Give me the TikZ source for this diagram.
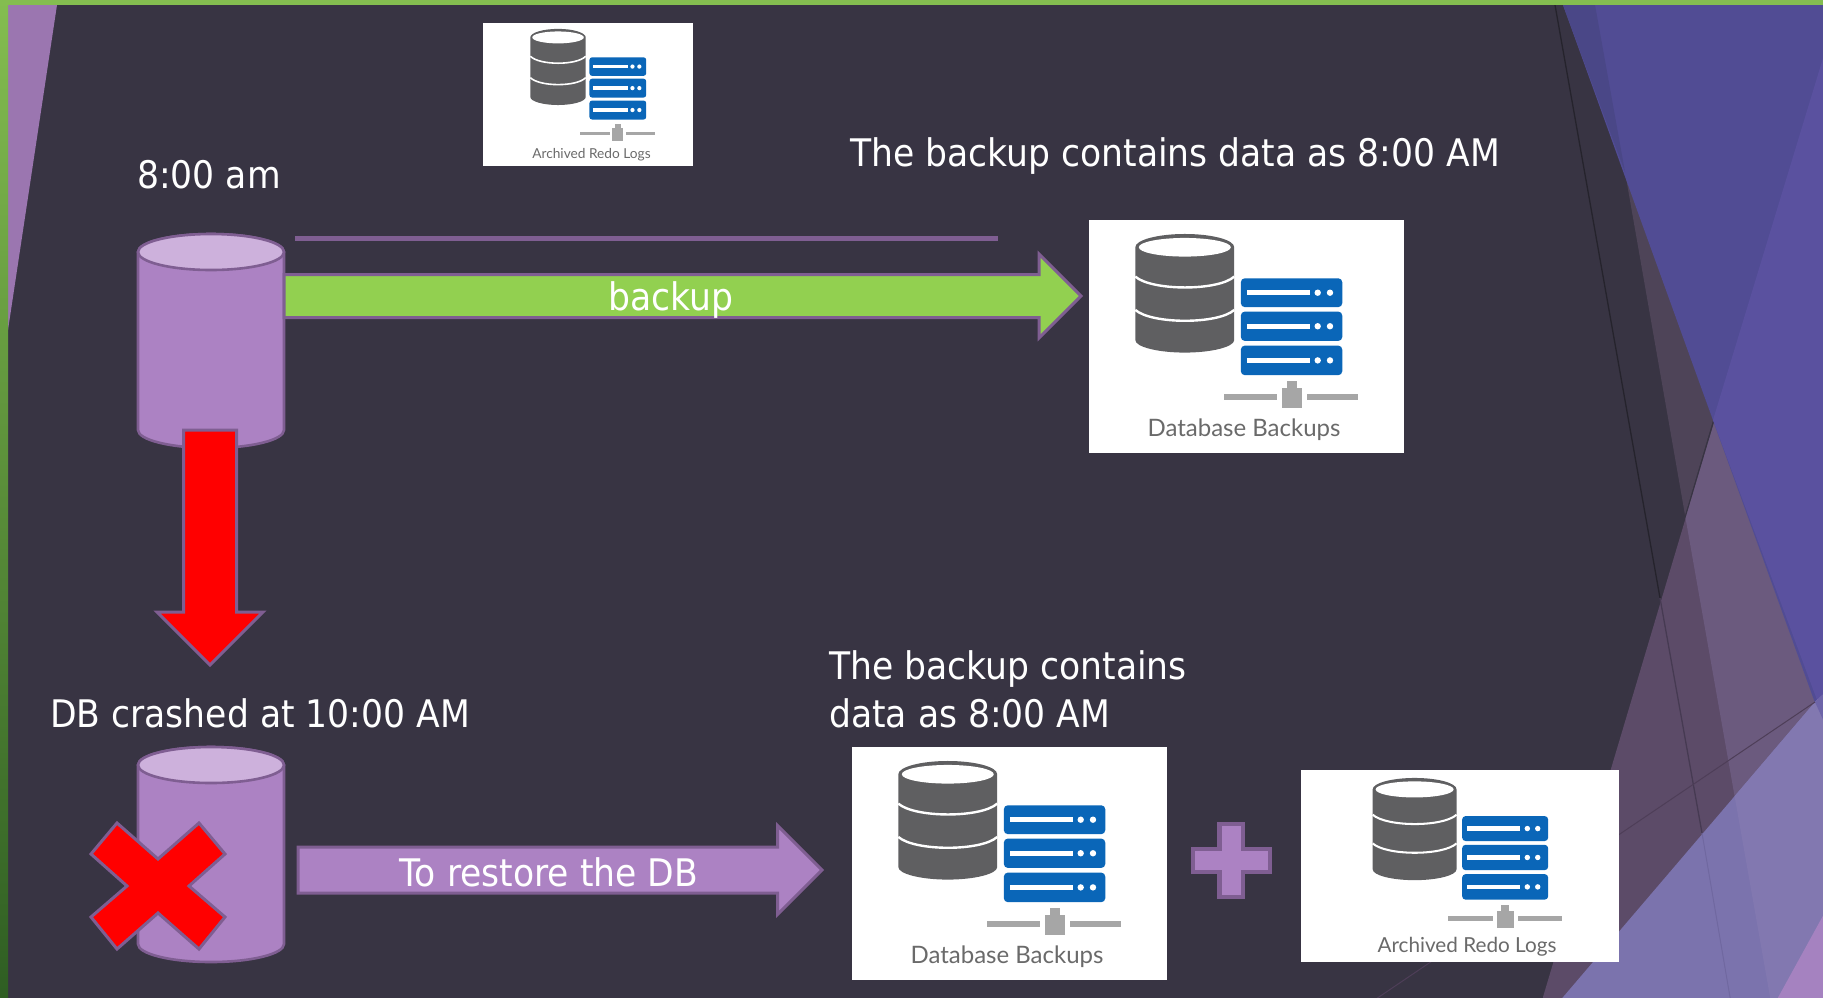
\documentclass[tikz,border=0pt]{standalone}
\usepackage{fontspec}
\usetikzlibrary{shapes.arrows}
\newfontfamily\tah[FakeStretch=0.91]{DejaVu Sans}
\newfontfamily\lato{Lato}
\definecolor{bgdark}{HTML}{383443}
\definecolor{edgep}{HTML}{7F5E92}
\definecolor{fillp}{HTML}{AC82C3}
\definecolor{topp}{HTML}{CDB1DC}
\definecolor{greenfill}{HTML}{92D050}
\definecolor{barg}{HTML}{84BD50}
\definecolor{iblue}{HTML}{0A66B8}
\definecolor{igray}{HTML}{5F5F61}
\definecolor{ibar}{HTML}{A6A6A6}
\definecolor{itext}{HTML}{6A6A6A}
\tikzset{
  maintext/.style={text=white,inner sep=0pt,font=\tah\fontsize{38}{42}\selectfont},
  whitebox/.style={fill=white,draw=none,inner sep=0pt,outer sep=0pt,anchor=north west},
  blockarrow/.style={shape=single arrow,draw=edgep,line width=3pt,inner sep=0pt,outer sep=0pt,anchor=tail,single arrow tip angle=90},
  iconlabel/.style={text=itext,inner sep=0pt,font=\lato},
}
% #1 X  #2 Y  #3 W  #4 H  #5 scale
\newcommand\iconart[5]{%
  \begin{scope}[shift={(#1,#2)},x=#3pt,y=-#4pt]
    \fill[igray] (.147,.117) -- (.147,.515) .. controls (.147,.545) and (.22,.569) .. (.304,.569)
      .. controls (.388,.569) and (.461,.545) .. (.461,.515) -- (.461,.117)
      .. controls (.461,.085) and (.39,.06) .. (.304,.06) .. controls (.22,.06) and (.147,.085) .. (.147,.117) -- cycle;
    \fill[white] (.304,.117) ellipse [x radius=.146,y radius=.04];
    \draw[white,line width=#5*2.4pt] (.147,.243) .. controls (.2,.305) and (.41,.305) .. (.461,.243);
    \draw[white,line width=#5*2.4pt] (.147,.386) .. controls (.2,.448) and (.41,.448) .. (.461,.386);
    \foreach \ya/\yb in {.25/.374,.393/.519,.539/.666}{
      \fill[iblue,rounded corners=#5*4pt] (.482,\ya) rectangle (.804,\yb);
      \draw[white,line width=#5*5pt] (.501,{(\ya+\yb)/2}) -- (.70,{(\ya+\yb)/2});
      \fill[white] (.726,{(\ya+\yb)/2}) circle [radius=#5*3.2pt];
      \fill[white] (.765,{(\ya+\yb)/2}) circle [radius=#5*3.2pt];
    }
    \fill[ibar] (.429,.748) rectangle (.598,.772);
    \fill[ibar] (.691,.748) rectangle (.855,.772);
    \fill[ibar] (.612,.721) rectangle (.675,.807);
    \fill[ibar] (.628,.693) rectangle (.659,.73);
  \end{scope}}
% #1 name  #2 cx  #3 top-ellipse y  #4 body height
\newcommand\dbcyl[4]{%
  \coordinate (#1) at (#2,#3);
  \begin{scope}[shift={(#2,#3)}]
    \draw[fill=fillp,draw=edgep,line width=2.6pt] (-73,0) -- (-73,#4)
      arc[start angle=180,end angle=360,x radius=73pt,y radius=18pt] -- (73,0)
      arc[start angle=0,end angle=180,x radius=73pt,y radius=18pt] -- cycle;
    \draw[fill=topp,draw=edgep,line width=2.6pt] (0,0) ellipse [x radius=73pt,y radius=18pt];
  \end{scope}}
\begin{document}
\begin{tikzpicture}[x=1pt,y=-1pt]
\useasboundingbox (0,0) rectangle (1823,997);
\fill[bgdark] (-5,-5) rectangle (1830,1003);
% right-hand backdrop
\fill[color={rgb,255:red,92;green,75;blue,104}] (1823,57) -- (1543,997) -- (1543,1003) -- (1830,1003) -- (1830,57) -- cycle;
\begin{scope}
  \clip (1823,57) -- (1543,997) -- (1543,1003) -- (1830,1003) -- (1830,57) -- cycle;
  \fill[color={rgb,255:red,107;green,90;blue,126}] (1595,5) -- (1770,997) -- (1771,1003) -- (1830,1003) -- (1830,5) -- cycle;
\end{scope}
\fill[color={rgb,255:red,78;green,68;blue,88}] (1625,172) -- (1685,515) -- (1713,420) -- cycle;
\fill[color={rgb,255:red,81;green,76;blue,148}] (1563,5) -- (1830,5) -- (1830,735) -- (1823,725) -- cycle;
\fill[color={rgb,255:red,74;green,71;blue,135}] (1563,5) -- (1595,5) -- (1625,172) -- cycle;
\fill[color={rgb,255:red,90;green,81;blue,159}] (1830,35) -- (1713,420) -- (1830,735) -- cycle;
\fill[color={rgb,255:red,123;green,115;blue,173}] (1558,1003) -- (1815,702) -- (1830,688) -- (1830,1003) -- cycle;
\begin{scope}
  \clip (1558,1003) -- (1815,702) -- (1830,688) -- (1830,1003) -- cycle;
  \fill[color={rgb,255:red,130;green,120;blue,176}] (1595,5) -- (1770,997) -- (1771,1003) -- (1830,1003) -- (1830,5) -- cycle;
\end{scope}
\fill[color={rgb,255:red,109;green,100;blue,168}] (1815,702) -- (1830,688) -- (1830,735) -- cycle;
\fill[color={rgb,255:red,165;green,130;blue,192}] (1775,1003) -- (1830,903) -- (1830,1003) -- cycle;
\draw[line width=1.3pt,color={rgb,255:red,37;green,35;blue,44}] (1555,5) -- (1660,598);
\draw[line width=1.3pt,color={rgb,255:red,70;green,58;blue,82}] (1660,598) -- (1702,833);
\draw[line width=1pt,color={rgb,255:red,112;green,104;blue,160}] (1702,833) -- (1731,1003);
\draw[line width=1pt,color={rgb,255:red,78;green,62;blue,88}] (1370,1003) -- (1815,702);
% frame
\fill[color={rgb,255:red,155;green,118;blue,176}] (8,5) -- (57,5) -- (8,330) -- cycle;
\shade[top color=barg,middle color=barg!92!black,bottom color={rgb,255:red,46;green,93;blue,34}] (-5,0) rectangle (8,1003);
\fill[barg] (-5,-5) rectangle (1830,5);

% top database and backup line
\dbcyl{dbtop}{211}{252}{178}
\coordinate (lineA) at (295,238);
\coordinate (lineB) at (998,238);
\draw[edgep,line width=5pt] (lineA) -- (lineB);

% icons
\node[whitebox,minimum width=210pt,minimum height=143pt] (archtop) at (483,23) {};
\iconart{504.4}{19.9}{176.4}{149.6}{.667}
\node[iconlabel,font=\lato\fontsize{13.7}{15}\selectfont] (archtoplabel) at (591.5,155) {Archived Redo Logs};
\node[whitebox,minimum width=315pt,minimum height=233pt] (dbbtop) at (1089,220) {};
\iconart{1089}{220}{315}{233}{1}
\node[iconlabel,font=\lato\fontsize{24}{26}\selectfont] (dbbtoplabel) at (1244,430) {Database Backups};
\node[whitebox,minimum width=315pt,minimum height=233pt] (dbbbot) at (852,747) {};
\iconart{852}{747}{315}{233}{1}
\node[iconlabel,font=\lato\fontsize{24}{26}\selectfont] (dbbbotlabel) at (1007,957) {Database Backups};
\node[whitebox,minimum width=318pt,minimum height=192pt] (archbot) at (1301,770) {};
\iconart{1333.4}{765.9}{267.1}{200.8}{.85}
\node[iconlabel,font=\lato\fontsize{20.7}{23}\selectfont] (archbotlabel) at (1467,947) {Archived Redo Logs};

% arrows
\node[blockarrow,fill=greenfill,minimum height=797pt,minimum width=84pt,single arrow head extend=20.5pt] (backuparrow) at (284,296) {\rule[-20pt]{0pt}{40pt}};
\node[blockarrow,fill=red,shape border rotate=270,minimum height=235pt,minimum width=106pt,single arrow head extend=26.5pt] (crasharrow) at (210,430) {\rule{50pt}{0pt}};
\node[maintext,text=white] (backuplabel) at (671,300) {backup};

% lower database
\dbcyl{dbbot}{211}{765}{179}
\draw[fill=red,draw=edgep,line width=3pt]
  (117,823) -- (91,854) -- (127,886) -- (91,917) -- (117,949) -- (158,913) -- (199,949) -- (225,917) -- (189,886) -- (225,854) -- (199,823) -- (158,859) -- cycle;
\node[blockarrow,fill=fillp,minimum height=524pt,minimum width=89pt,single arrow head extend=21.5pt] (restorearrow) at (298,870) {\rule[-21.5pt]{0pt}{43pt}};
\node[maintext] (restorelabel) at (549,872) {To restore the DB};

% plus
\draw[fill=fillp,draw=edgep,line width=4.5pt]
  (1219.5,824) -- (1243,824) -- (1243,849) -- (1270,849) -- (1270,872) -- (1243,872) -- (1243,897) -- (1219.5,897) -- (1219.5,872) -- (1193,872) -- (1193,849) -- (1219.5,849) -- cycle;

% texts
\node[maintext] (t800) at (209,175) {8:00 am};
\node[maintext] (tbackup1) at (1175,156) {The backup contains data as 8:00 AM};
\node[maintext,anchor=west] (tcrash) at (50,713) {DB crashed at 10:00 AM};
\node[maintext,anchor=west] (tbackup2a) at (829,669) {The backup contains};
\node[maintext,anchor=west] (tbackup2b) at (829,713) {data as 8:00 AM};
\end{tikzpicture}
\end{document}
